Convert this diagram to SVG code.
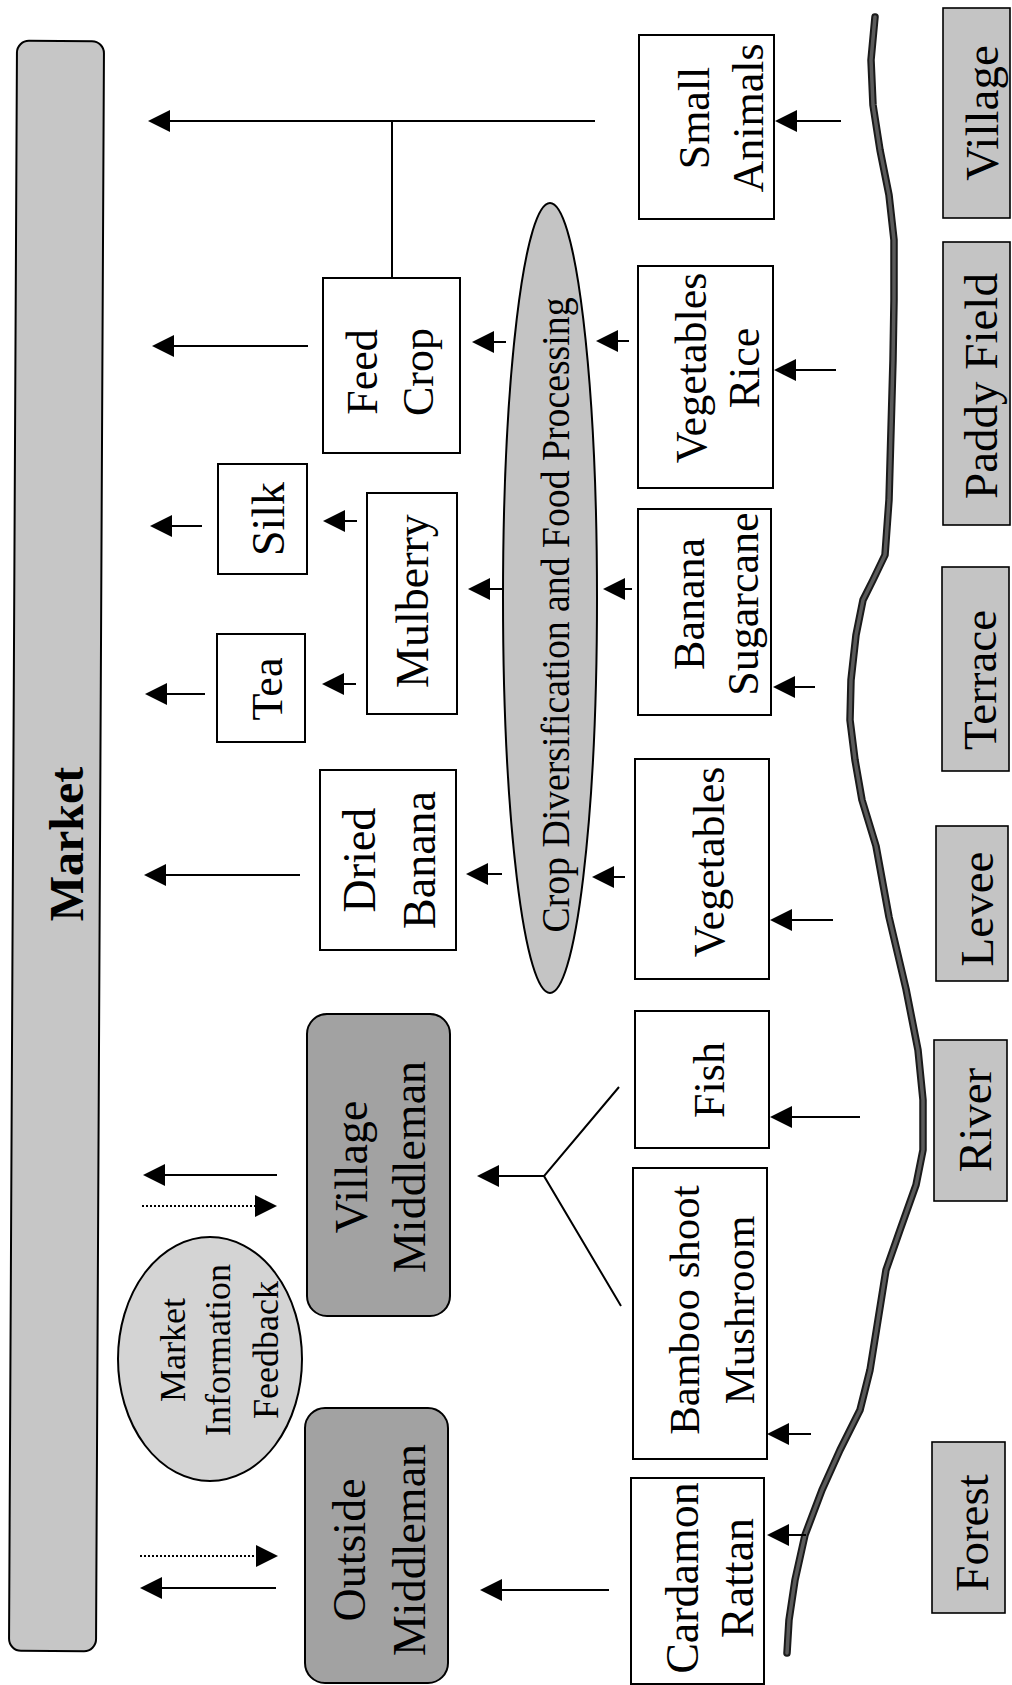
<svg xmlns="http://www.w3.org/2000/svg" width="1012" height="1685" viewBox="0 0 1012 1685">
<defs>
<style>
.box{fill:#fff;stroke:#000;stroke-width:2}
.lbl{fill:#c4c4c4;stroke:#000;stroke-width:1.6}
.mm{fill:#a2a2a2;stroke:#000;stroke-width:2}
.t{font-family:"Liberation Serif","Times New Roman",serif;font-size:44px;text-anchor:middle;fill:#000}
.ln{stroke:#000;stroke-width:2;fill:none}
.arr{marker-end:url(#ah)}
.dot{stroke-dasharray:2 2}
.wave{fill:none;stroke-linejoin:round;stroke-linecap:round}
</style>
<marker id="ah" markerUnits="userSpaceOnUse" markerWidth="22" markerHeight="22" refX="18" refY="11" orient="auto" viewBox="0 0 22 22">
<path d="M0,0 L22,11 L0,22 z" fill="#000"/>
</marker>
</defs>
<rect width="1012" height="1685" fill="#fff"/>

<g id="market">
<rect x="13" y="41" width="87" height="1610" rx="12" fill="#c6c6c6" stroke="#000" stroke-width="2" transform="rotate(0.285 56.5 846)"/>
<text class="t" transform="translate(83,844) rotate(-90)" style="font-weight:bold;font-size:48px">Market</text>
</g>

<g id="outside-middleman">
<rect class="mm" x="305" y="1408" width="143" height="275" rx="20"/>
<text class="t" transform="translate(365,1550) rotate(-90)" style="font-size:46px"><tspan x="0">Outside</tspan><tspan x="0" dy="60">Middleman</tspan></text>
</g>

<g id="market-info">
<ellipse cx="210" cy="1359" rx="92" ry="122" fill="#d4d4d4" stroke="#000" stroke-width="2"/>
<text class="t" transform="translate(185,1350) rotate(-90)" style="font-size:36px"><tspan x="0">Market</tspan><tspan x="0" dy="45">Information</tspan><tspan x="0" dy="48">Feedback</tspan></text>
</g>

<g id="village-middleman">
<rect class="mm" x="307" y="1014" width="143" height="302" rx="20"/>
<text class="t" transform="translate(367,1167) rotate(-90)" style="font-size:46px"><tspan x="0">Village</tspan><tspan x="0" dy="58">Middleman</tspan></text>
</g>

<g id="dried-banana">
<rect class="box" x="320" y="770" width="136" height="180"/>
<text class="t" transform="translate(375,860) rotate(-90)" style="font-size:46px"><tspan x="0">Dried</tspan><tspan x="0" dy="60">Banana</tspan></text>
</g>

<g id="tea">
<rect class="box" x="217" y="634" width="88" height="108"/>
<text class="t" transform="translate(282,689) rotate(-90)">Tea</text>
</g>

<g id="silk">
<rect class="box" x="218" y="464" width="89" height="110"/>
<text class="t" transform="translate(284,519) rotate(-90)" style="font-size:46px">Silk</text>
</g>

<g id="mulberry">
<rect class="box" x="367" y="493" width="90" height="221"/>
<text class="t" transform="translate(428,601) rotate(-90)" style="font-size:46px">Mulberry</text>
</g>

<g id="feed-crop">
<rect class="box" x="323" y="278" width="137" height="175"/>
<text class="t" transform="translate(377,372) rotate(-90)"><tspan x="0">Feed</tspan><tspan x="0" dy="56">Crop</tspan></text>
</g>

<g id="crop-diversification">
<ellipse cx="550" cy="598" rx="47" ry="395" fill="#c4c4c4" stroke="#000" stroke-width="2"/>
<text class="t" transform="translate(569,615) rotate(-90)" style="font-size:41px" textLength="635" lengthAdjust="spacingAndGlyphs">Crop Diversification and Food Processing</text>
</g>

<g id="small-animals">
<rect class="box" x="639" y="35" width="135" height="184"/>
<text class="t" transform="translate(709,118) rotate(-90)"><tspan x="0">Small</tspan><tspan x="0" dy="54">Animals</tspan></text>
</g>

<g id="vegetables-rice">
<rect class="box" x="638" y="266" width="135" height="222"/>
<text class="t" transform="translate(706,368) rotate(-90)"><tspan x="0">Vegetables</tspan><tspan x="0" dy="53">Rice</tspan></text>
</g>

<g id="banana-sugarcane">
<rect class="box" x="638" y="509" width="133" height="206"/>
<text class="t" transform="translate(704,604) rotate(-90)"><tspan x="0">Banana</tspan><tspan x="0" dy="54">Sugarcane</tspan></text>
</g>

<g id="vegetables">
<rect class="box" x="635" y="759" width="134" height="220"/>
<text class="t" transform="translate(724,862) rotate(-90)">Vegetables</text>
</g>

<g id="fish">
<rect class="box" x="635" y="1011" width="134" height="137"/>
<text class="t" transform="translate(724,1080) rotate(-90)">Fish</text>
</g>

<g id="bamboo-mushroom">
<rect class="box" x="633" y="1168" width="134" height="291"/>
<text class="t" transform="translate(699,1310) rotate(-90)" style="font-size:43px"><tspan x="0">Bamboo shoot</tspan><tspan x="0" dy="55">Mushroom</tspan></text>
</g>

<g id="cardamon-rattan">
<rect class="box" x="631" y="1478" width="133" height="206"/>
<text class="t" transform="translate(698,1578) rotate(-90)" style="font-size:46px"><tspan x="0">Cardamon</tspan><tspan x="0" dy="55">Rattan</tspan></text>
</g>

<g id="boundary">
<polyline class="wave" points="875,17 871,60 873,105 880,150 889,195 894,240 894,300 893,360 891,430 889,500 885,555 873,580 863,600 856,635 851,680 850,720 855,760 862,800 876,846 889,917 906,989 918,1050 923,1100 923,1150 916,1185 900,1230 886,1270 878,1320 870,1370 860,1410 840,1450 822,1490 805,1535 795,1580 789,1620 787,1653" stroke="#1a1a1a" stroke-width="7.5"/>
<polyline class="wave" points="875,17 871,60 873,105 880,150 889,195 894,240 894,300 893,360 891,430 889,500 885,555 873,580 863,600 856,635 851,680 850,720 855,760 862,800 876,846 889,917 906,989 918,1050 923,1100 923,1150 916,1185 900,1230 886,1270 878,1320 870,1370 860,1410 840,1450 822,1490 805,1535 795,1580 789,1620 787,1653" stroke="#5a5a5a" stroke-width="3.5"/>
</g>

<g id="label-village">
<rect class="lbl" x="943" y="8" width="67" height="210"/>
<text class="t" transform="translate(998,113) rotate(-90)" style="font-size:47px">Village</text>
</g>
<g id="label-paddy">
<rect class="lbl" x="943" y="242" width="67" height="283"/>
<text class="t" transform="translate(997,386) rotate(-90)" style="font-size:47px">Paddy Field</text>
</g>
<g id="label-terrace">
<rect class="lbl" x="942" y="567" width="67" height="204"/>
<text class="t" transform="translate(996,680) rotate(-90)" style="font-size:47px">Terrace</text>
</g>
<g id="label-levee">
<rect class="lbl" x="936" y="826" width="72" height="155"/>
<text class="t" transform="translate(993,909) rotate(-90)" style="font-size:47px">Levee</text>
</g>
<g id="label-river">
<rect class="lbl" x="934" y="1040" width="73" height="161"/>
<text class="t" transform="translate(991,1120) rotate(-90)" style="font-size:47px">River</text>
</g>
<g id="label-forest">
<rect class="lbl" x="932" y="1442" width="73" height="171"/>
<text class="t" transform="translate(988,1533) rotate(-90)" style="font-size:47px">Forest</text>
</g>

<g id="connectors">
<path class="ln arr" d="M595,121 H152"/>
<path class="ln" d="M392,121 V278"/>
<path class="ln arr" d="M308,346 H156"/>
<path class="ln arr" d="M202,526 H154"/>
<path class="ln arr" d="M205,694 H149"/>
<path class="ln arr" d="M300,875 H148"/>
<path class="ln arr" d="M277,1175 H147"/>
<path class="ln arr dot" d="M142,1206 H273"/>
<path class="ln arr dot" d="M140,1556 H274"/>
<path class="ln arr" d="M276,1588 H144"/>
<path class="ln arr" d="M357,521 H327"/>
<path class="ln arr" d="M356,684 H326"/>
<path class="ln arr" d="M506,342 H476"/>
<path class="ln arr" d="M502,589 H472"/>
<path class="ln arr" d="M502,874 H470"/>
<path class="ln arr" d="M629,341 H600"/>
<path class="ln arr" d="M632,589 H607"/>
<path class="ln arr" d="M625,877 H596"/>
<path class="ln arr" d="M841,121 H779"/>
<path class="ln arr" d="M836,370 H778"/>
<path class="ln arr" d="M815,687 H777"/>
<path class="ln arr" d="M833,920 H774"/>
<path class="ln arr" d="M860,1117 H774"/>
<path class="ln arr" d="M811,1434 H771"/>
<path class="ln arr" d="M806,1535 H771"/>
<path class="ln arr" d="M544,1176 H481"/>
<path class="ln" d="M619,1087 L544,1176 L621,1306"/>
<path class="ln arr" d="M609,1590 H484"/>
</g>
</svg>
